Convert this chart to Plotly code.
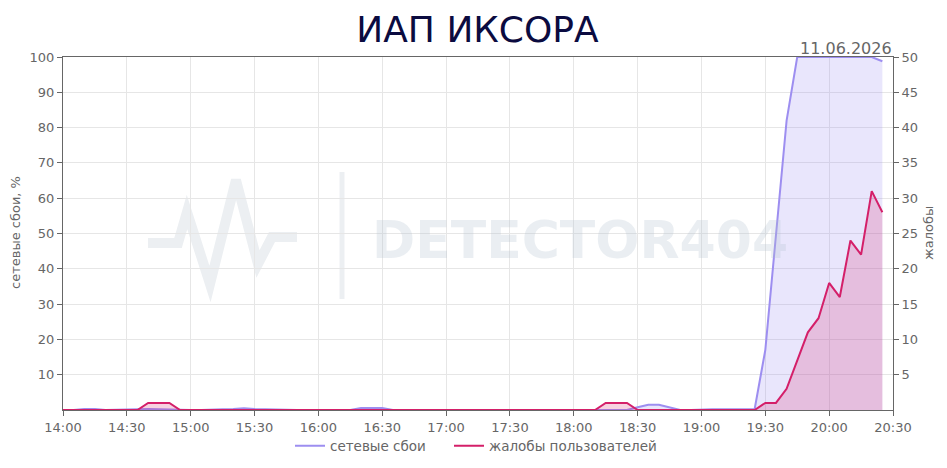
import pandas as pd
import plotly.graph_objects as go

# Временная ось: шаг 5 минут, 14:00 – 20:25
times = pd.date_range('2026-06-11 14:00', '2026-06-11 20:25', freq='5min')

# сетевые сбои, %
network = [
    0, 0, 0.3, 0.3, 0, 0, 0.2, 0.2, 0.3, 0.2, 0, 0,        # 14:00-14:55
    0, 0, 0, 0.2, 0.3, 0.5, 0.3, 0.2, 0, 0, 0, 0,          # 15:00-15:55
    0, 0, 0, 0, 0.6, 0.6, 0.6, 0, 0, 0, 0, 0,              # 16:00-16:55
    0, 0, 0, 0, 0, 0, 0, 0, 0, 0, 0, 0,                    # 17:00-17:55
    0, 0, 0, 0, 0, 0, 0.8, 1.5, 1.5, 0.8, 0, 0,            # 18:00-18:55
    0.2, 0.2, 0.2, 0.2, 0.2, 0.3, 17, 49, 82, 100, 100, 100,  # 19:00-19:55
    100, 100, 100, 100, 100, 98.8,                         # 20:00-20:25
]

# жалобы пользователей
complaints = [
    0, 0, 0, 0, 0, 0, 0, 0, 1, 1, 1, 0,
    0, 0, 0, 0, 0, 0, 0, 0, 0, 0, 0, 0,
    0, 0, 0, 0, 0, 0, 0, 0, 0, 0, 0, 0,
    0, 0, 0, 0, 0, 0, 0, 0, 0, 0, 0, 0,
    0, 0, 0, 1, 1, 1, 0, 0, 0, 0, 0, 0,
    0, 0, 0, 0, 0, 0, 1, 1, 3, 7, 11, 13,
    18, 16, 24, 22, 31, 28,
]

left_ticks = [10, 20, 30, 40, 50, 60, 70, 80, 90, 100]
right_ticks = [5, 10, 15, 20, 25, 30, 35, 40, 45, 50]

FONT = 'DejaVu Sans'
GRAY = '#666666'
NET_LINE = '#9d8ef0'
NET_FILL = 'rgba(155,140,240,0.22)'
CMP_LINE = '#d41f69'
CMP_FILL = 'rgba(214,31,105,0.20)'
WM = 'rgba(180,195,210,0.28)'

# страница имеет отступ body 8px — компенсируем размером фигуры
W, H = 939, 460
L, T = 55, 49
PW, PH = 830, 353

fig = go.Figure()

# заливки (без легенды)
fig.add_trace(go.Scatter(x=times, y=network, mode='none', fill='tozeroy',
                         fillcolor=NET_FILL, showlegend=False, hoverinfo='skip'))
fig.add_trace(go.Scatter(x=times, y=complaints, mode='none', fill='tozeroy',
                         fillcolor=CMP_FILL, showlegend=False, hoverinfo='skip',
                         yaxis='y2'))
# линии
fig.add_trace(go.Scatter(x=times, y=network, mode='lines', name='сетевые сбои',
                         line=dict(color=NET_LINE, width=2)))
fig.add_trace(go.Scatter(x=times, y=complaints, mode='lines', name='жалобы пользователей',
                         line=dict(color=CMP_LINE, width=2), yaxis='y2',
                         legend='legend2'))


# пиксели страницы -> доли области графика
def px(x, y):
    return (x - 8 - L) / PW, (T + 8 + PH - y) / PH


# водяной знак
pulse = [(148, 243), (178, 243), (187, 212), (210, 284), (236, 180),
         (258, 264), (272, 237), (297, 237)]
pts = [px(x, y) for x, y in pulse]
path = 'M ' + ' L '.join(f'{a:.4f},{b:.4f}' for a, b in pts)
shapes = [
    dict(type='path', path=path, xref='paper', yref='paper', layer='below',
         line=dict(color='#eceff2', width=10)),
    dict(type='line', xref='paper', yref='paper', layer='below',
         x0=px(342, 0)[0], x1=px(342, 0)[0], y0=px(0, 172)[1], y1=px(0, 299)[1],
         line=dict(color='#eceff2', width=5)),
]

legend_style = dict(orientation='h', yanchor='middle', xanchor='left',
                    font=dict(size=13.5, color=GRAY), bgcolor='rgba(0,0,0,0)')

fig.update_layout(
    width=W, height=H,
    margin=dict(l=L, r=W - L - PW, t=T, b=H - T - PH, autoexpand=False),
    paper_bgcolor='white', plot_bgcolor='white',
    font=dict(family=FONT, size=13, color=GRAY),
    title=dict(text='ИАП ИКСОРА', x=0.5, xanchor='center', y=1 - 21 / H,
               yanchor='middle', font=dict(family=FONT, size=36, color='#0b0b40')),
    xaxis=dict(range=['2026-06-11 14:00', '2026-06-11 20:30'],
               tickformat='%H:%M', dtick=30 * 60 * 1000,
               showgrid=True, gridcolor='#e6e6e6', gridwidth=1,
               showline=True, linecolor=GRAY, linewidth=1, mirror=True,
               ticks='outside', ticklen=5, tickcolor=GRAY,
               tickfont=dict(size=13, color=GRAY), zeroline=False),
    yaxis=dict(range=[0, 100], tickvals=left_ticks,
               showgrid=True, gridcolor='#e6e6e6', gridwidth=1,
               showline=True, linecolor=GRAY, linewidth=1,
               ticks='outside', ticklen=5, tickcolor=GRAY,
               tickfont=dict(size=13, color=GRAY), zeroline=False),
    yaxis2=dict(range=[0, 50], tickvals=right_ticks, overlaying='y', side='right',
                showgrid=False, showline=True, linecolor=GRAY, linewidth=1,
                ticks='outside', ticklen=5, tickcolor=GRAY,
                tickfont=dict(size=13, color=GRAY), zeroline=False),
    legend=dict(x=px(290, 0)[0], y=px(0, 446)[1], **legend_style),
    legend2=dict(x=px(449, 0)[0], y=px(0, 446)[1], **legend_style),
    shapes=shapes,
    annotations=[
        dict(text='11.06.2026', xref='paper', yref='paper', x=px(894, 0)[0],
             y=px(0, 48)[1], xanchor='right', yanchor='middle', showarrow=False,
             font=dict(size=16, color=GRAY)),
        dict(text='сетевые сбои, %', xref='paper', yref='paper', x=px(15, 0)[0],
             y=px(0, 233)[1], textangle=-90, showarrow=False, xanchor='center',
             yanchor='middle', font=dict(size=13, color=GRAY)),
        dict(text='жалобы', xref='paper', yref='paper', x=px(928, 0)[0],
             y=px(0, 233)[1], textangle=-90, showarrow=False, xanchor='center',
             yanchor='middle', font=dict(size=13, color=GRAY)),
        dict(text='<b>DETECTOR404</b>', xref='paper', yref='paper', x=px(580, 0)[0],
             y=px(0, 240)[1], showarrow=False, xanchor='center', yanchor='middle',
             font=dict(family=FONT, size=52, color=WM)),
    ],
)

fig.write_html('out.html')
